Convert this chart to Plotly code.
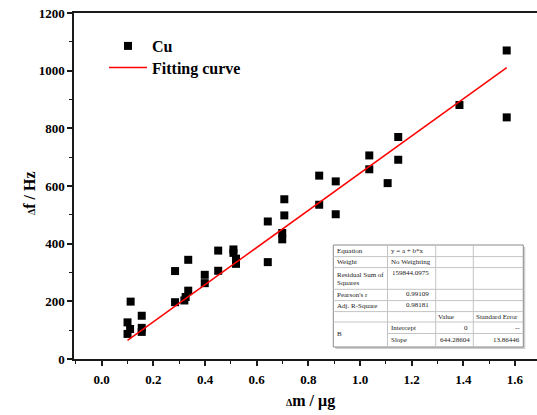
import plotly.graph_objects as go

# ---- data ----
cu_x = [0.10, 0.11, 0.10, 0.112, 0.155, 0.155, 0.155, 0.284, 0.284, 0.32, 0.325,
        0.335, 0.335, 0.399, 0.399, 0.451, 0.451, 0.51, 0.51, 0.52, 0.52, 0.643,
        0.643, 0.699, 0.699, 0.707, 0.707, 0.842, 0.842, 0.906, 0.906, 1.036,
        1.036, 1.107, 1.148, 1.148, 1.385, 1.568, 1.568]
cu_y = [127, 104, 87, 199, 150, 108, 94, 305, 197, 203, 215,
        237, 344, 292, 263, 376, 306, 380, 368, 348, 330, 477,
        336, 437, 415, 498, 554, 636, 535, 616, 502, 706,
        658, 610, 770, 691, 881, 1070, 838]

fit_intercept = 0.0
fit_slope = 644.28604
fit_slope_err = 13.86446
pearson_r = 0.99109
adj_r2 = 0.98181
rss = 159844.0975

x_tick_vals = [0.0, 0.2, 0.4, 0.6, 0.8, 1.0, 1.2, 1.4, 1.6]
y_tick_vals = [0, 200, 400, 600, 800, 1000, 1200]

# ---- layout geometry (pixels) ----
W, H = 537, 415
L, R, T, B = 74, 537, 13, 359
x0_px, px_per_unit = 101.7, 258.3
x_range = [(L - x0_px) / px_per_unit, (R - x0_px) / px_per_unit]

def px(xp):
    return (xp - L) / (R - L)

def py(yp):
    return (B - yp) / (B - T)

FONT = "Liberation Serif, Times New Roman, serif"

fit_x = [min(cu_x), max(cu_x)]
fit_y = [fit_intercept + fit_slope * v for v in fit_x]

fig = go.Figure()
fig.add_trace(go.Scatter(x=cu_x, y=cu_y, mode="markers", name="Cu", legend="legend",
                         marker=dict(symbol="square", size=8, color="black",
                                     line=dict(width=0))))
fig.add_trace(go.Scatter(x=fit_x, y=fit_y, mode="lines", name="Fitting curve",
                         legend="legend2",
                         line=dict(color="#ff0000", width=1.5)))

axis_common = dict(showgrid=False, zeroline=False, showline=True, linecolor="#1a1a1a",
                   linewidth=1.5, ticks="outside", ticklen=5, tickwidth=1.5,
                   tickcolor="#1a1a1a",
                   tickfont=dict(family=FONT, size=13, color="black", weight="bold"))

legend_common = dict(xanchor="left", yanchor="middle", bgcolor="rgba(0,0,0,0)",
                     borderwidth=0, itemwidth=38,
                     font=dict(family=FONT, size=16, color="black", weight="bold"))

fig.update_layout(
    width=W, height=H, autosize=False,
    margin=dict(l=L, r=W - R, t=T, b=H - B, pad=0),
    paper_bgcolor="white", plot_bgcolor="white",
    xaxis=dict(range=x_range, tickvals=x_tick_vals, tickformat=".1f", mirror=True,
               ticklabelstandoff=3,
               minor=dict(dtick=0.1, tick0=0, ticks="outside", ticklen=3, tickwidth=1.2,
                          tickcolor="#1a1a1a"),
               **axis_common),
    yaxis=dict(range=[0, 1200], tickvals=y_tick_vals,
               minor=dict(dtick=100, tick0=0, ticks="outside", ticklen=3, tickwidth=1.2,
                          tickcolor="#1a1a1a"),
               **axis_common),
    legend=dict(x=px(104), y=py(46), **legend_common),
    legend2=dict(x=px(104), y=py(67.5), **legend_common),
    showlegend=True,
)

annotations = []
# axis titles
annotations.append(dict(text="<span style='font-size:10px'>Δ</span>m / μg",
                        x=px(310), y=py(401), xref="paper", yref="paper",
                        xanchor="center", yanchor="middle", showarrow=False,
                        font=dict(family=FONT, size=16, color="black", weight="bold")))
annotations.append(dict(text="<span style='font-size:10px'>Δ</span>f / Hz",
                        x=px(29), y=py(193), xref="paper", yref="paper", textangle=-90,
                        xanchor="center", yanchor="middle", showarrow=False,
                        font=dict(family=FONT, size=16, color="black", weight="bold")))

# ---- inset results table ----
tl, tr, tt, tb = 333.3, 523.3, 245.0, 347.0
c1, c2, c3 = 387.5, 435.7, 473.3
rows = [256.6, 267.6, 289.3, 300.6, 311.6, 322.0]
row_slope = 333.5

shapes = []
# shadow
shapes.append(dict(type="rect", xref="paper", yref="paper",
                   x0=px(tl + 2), x1=px(tr + 2), y0=py(tb + 2), y1=py(tt + 2),
                   fillcolor="#d0d0d0", line=dict(width=0), layer="above"))
shapes.append(dict(type="rect", xref="paper", yref="paper",
                   x0=px(tl), x1=px(tr), y0=py(tb), y1=py(tt),
                   fillcolor="white", line=dict(color="#8a8a8a", width=1), layer="above"))
grid = dict(color="#c4c4c4", width=1)
for r in rows:
    shapes.append(dict(type="line", xref="paper", yref="paper", x0=px(tl), x1=px(tr),
                       y0=py(r), y1=py(r), line=grid, layer="above"))
shapes.append(dict(type="line", xref="paper", yref="paper", x0=px(c1), x1=px(tr),
                   y0=py(row_slope), y1=py(row_slope), line=grid, layer="above"))
for c in (c1, c2, c3):
    shapes.append(dict(type="line", xref="paper", yref="paper", x0=px(c), x1=px(c),
                       y0=py(tb), y1=py(tt), line=grid, layer="above"))

tfont = dict(family=FONT, size=7, color="#222222")
table_text = [
    ("Equation", 335.5, 251.0, "left"),
    ("y = a + b*x", 390.0, 250.5, "left"),
    ("Weight", 335.5, 262.0, "left"),
    ("No Weighting", 390.0, 261.5, "left"),
    ("Residual Sum of", 335.5, 274.5, "left"),
    ("Squares", 335.5, 283.0, "left"),
    (f"{rss:.4f}", 430.0, 273.0, "right"),
    ("Pearson's r", 335.5, 295.0, "left"),
    (f"{pearson_r:.5f}", 430.0, 293.5, "right"),
    ("Adj. R-Square", 335.5, 306.0, "left"),
    (f"{adj_r2:.5f}", 430.0, 305.0, "right"),
    ("Value", 437.0, 316.5, "left"),
    ("Standard Error", 475.0, 316.5, "left"),
    ("B", 335.5, 334.0, "left"),
    ("Intercept", 390.0, 327.5, "left"),
    (f"{fit_intercept:.0f}", 469.0, 327.5, "right"),
    ("--", 521.0, 327.5, "right"),
    ("Slope", 390.0, 339.5, "left"),
    (f"{fit_slope:.5f}", 470.5, 339.5, "right"),
    (f"{fit_slope_err:.5f}", 521.0, 339.5, "right"),
]
for txt, xp, yp, anc in table_text:
    annotations.append(dict(text=txt, x=px(xp), y=py(yp), xref="paper", yref="paper",
                            xanchor=anc, yanchor="middle", showarrow=False,
                            borderpad=0, font=tfont))

fig.update_layout(shapes=shapes, annotations=annotations)
fig.write_html("out.html", config={"displayModeBar": False},
               post_script="document.body.style.margin='0';")
